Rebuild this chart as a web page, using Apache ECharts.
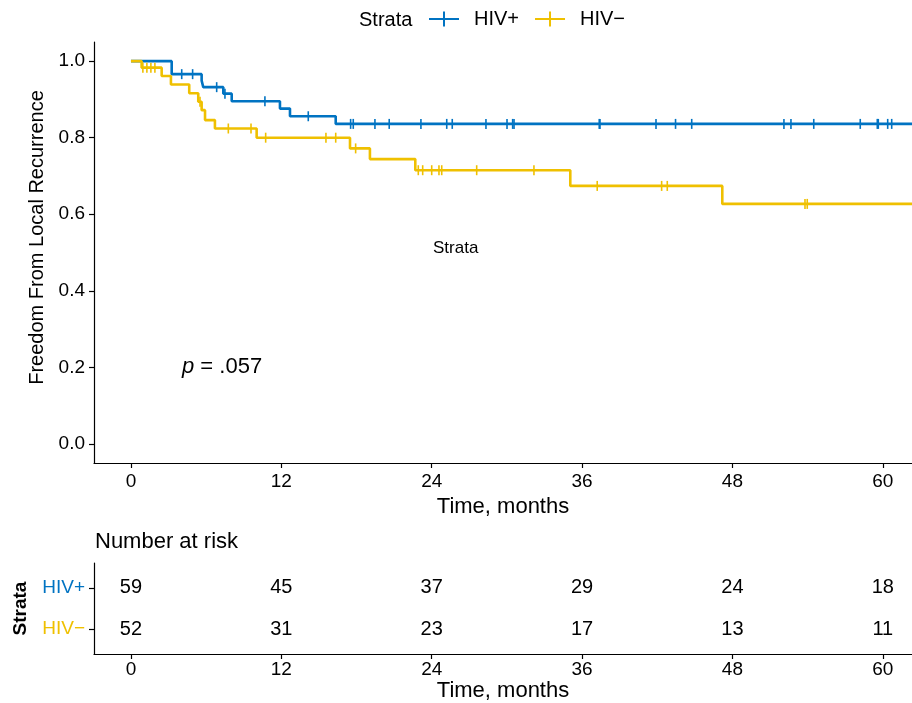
<!DOCTYPE html>
<html>
<head>
<meta charset="utf-8">
<script src="https://cdn.jsdelivr.net/npm/echarts@6/dist/echarts.min.js"></script>
<style>html,body{margin:0;padding:0;background:#fff;overflow:hidden}#c{width:912px;height:703px}</style>
</head>
<body>
<div id="c"></div>
<script>
// ---- Data ----
var strata = ['HIV+', 'HIV\u2212'];
var colors = ['#0073C2', '#EFC000'];
var endTime = 63;

// HIV+ step curve (event times, survival after event)
var hivPosTimes = [0, 3.25, 5.64, 5.77, 7.37, 8.04, 11.89, 12.69, 16.34];
var hivPosSurv  = [1, 0.966, 0.949, 0.932, 0.915, 0.895, 0.876, 0.856, 0.836];
var hivPosCensor = [4.05, 4.92, 6.84, 7.5, 10.69, 14.15, 17.53, 17.74, 19.47, 20.61, 23.14, 25.2, 25.64, 28.33, 30.01, 30.46, 30.57, 37.37, 37.43, 41.9, 43.46, 44.75, 52.11, 52.67, 54.49, 58.2, 59.56, 59.64, 60.39, 60.71];

// HIV− step curve
var hivNegTimes = [0, 0.85, 2.45, 3.19, 4.65, 5.37, 5.64, 5.91, 6.7, 10.03, 17.48, 19.07, 22.69, 35.06, 47.19];
var hivNegSurv  = [1, 0.983, 0.961, 0.939, 0.916, 0.894, 0.872, 0.846, 0.824, 0.800, 0.772, 0.744, 0.715, 0.674, 0.627];
var hivNegCensor = [0.95, 1.27, 1.59, 1.91, 5.51, 7.77, 9.58, 10.75, 15.56, 16.34, 17.93, 22.93, 23.28, 24.0, 24.58, 24.8, 27.59, 32.16, 37.21, 42.35, 42.8, 53.79, 53.97];

// Number at risk
var riskTimes = [0, 12, 24, 36, 48, 60];
var riskPos = [59, 45, 37, 29, 24, 18];
var riskNeg = [52, 31, 23, 17, 13, 11];

var xTicks = [0, 12, 24, 36, 48, 60];
var yTicks = [0, 0.2, 0.4, 0.6, 0.8, 1.0];
var pText = '.057';

// ---- Helpers ----
function stepData(times, surv) {
  var d = times.map(function (t, i) { return [t, surv[i]]; });
  d.push([endTime, surv[surv.length - 1]]);
  return d;
}
function survAt(times, surv, t) {
  var v = surv[0];
  for (var i = 0; i < times.length; i++) { if (times[i] <= t) v = surv[i]; }
  return v;
}
function censorData(cens, times, surv) {
  return cens.map(function (t) { return [t, survAt(times, surv, t)]; });
}

var FONT = 'Liberation Sans, Arial, Helvetica, sans-serif';
var xMin = -2.95, xMax = 62.33;
var crossIcon = 'path://M0,6.5 L30,6.5 L30,8.5 L0,8.5 Z M14,0 L16,0 L16,15 L14,15 Z';

function axLine() { return { show: true, onZero: false, lineStyle: { color: '#000', width: 1.2 } }; }
function tick(vals) { return { show: true, length: 5, customValues: vals, lineStyle: { color: '#000', width: 1.2 } }; }

var chart = echarts.init(document.getElementById('c'), null, { renderer: 'canvas' });
chart.setOption({
  animation: false,
  backgroundColor: '#fff',
  textStyle: { fontFamily: FONT },
  legend: {
    left: 429, top: 9, padding: 0,
    itemWidth: 30, itemHeight: 15, itemGap: 16,
    symbolKeepAspect: false,
    textStyle: { fontSize: 20, color: '#000', fontFamily: FONT, padding: [0, 0, 0, 10] },
    data: [
      { name: strata[0], icon: crossIcon, itemStyle: { color: colors[0], opacity: 1 } },
      { name: strata[1], icon: crossIcon, itemStyle: { color: colors[1], opacity: 1 } }
    ],
    selectedMode: false
  },
  graphic: [
    { type: 'text', left: 359, top: 10, style: { text: 'Strata', fontSize: 20, fill: '#000', fontFamily: FONT } },
    { type: 'text', left: 433, top: 240, style: { text: 'Strata', fontSize: 17, fill: '#000', fontFamily: FONT } },
    { type: 'text', left: 182, top: 356, style: {
        text: '{i|p} = ' + pText,
        rich: { i: { fontStyle: 'italic', fontSize: 22, fontFamily: FONT, fill: '#000' } },
        fontSize: 22, fill: '#000', fontFamily: FONT } },
    { type: 'text', left: 95, top: 531, style: { text: 'Number at risk', fontSize: 22, fill: '#000', fontFamily: FONT } }
  ],
  grid: [
    { left: 94, right: 0, top: 42, height: 421, containLabel: false },
    { left: 94, right: 0, top: 563, height: 96, containLabel: false }
  ],
  xAxis: [
    { gridIndex: 0, type: 'value', min: xMin, max: xMax,
      name: 'Time, months', nameLocation: 'middle', nameGap: 33,
      nameTextStyle: { fontSize: 22, color: '#000', fontFamily: FONT },
      axisLine: axLine(), axisTick: tick(xTicks),
      axisLabel: { customValues: xTicks, fontSize: 19, color: '#000', margin: 9, fontFamily: FONT },
      splitLine: { show: false } },
    { gridIndex: 1, type: 'value', min: xMin, max: xMax,
      name: 'Time, months', nameLocation: 'middle', nameGap: 26,
      nameTextStyle: { fontSize: 22, color: '#000', fontFamily: FONT },
      axisLine: axLine(), axisTick: tick(xTicks),
      axisLabel: { customValues: xTicks, fontSize: 19, color: '#000', margin: 6, fontFamily: FONT },
      splitLine: { show: false } }
  ],
  yAxis: [
    { gridIndex: 0, type: 'value', min: -0.05, max: 1.05,
      name: 'Freedom From Local Recurrence', nameLocation: 'middle', nameGap: 40,
      nameTextStyle: { fontSize: 20, color: '#000', fontFamily: FONT, padding: [0, 0, 0, 30] },
      axisLine: axLine(), axisTick: tick(yTicks),
      axisLabel: { customValues: yTicks, fontSize: 19, color: '#000', margin: 9, fontFamily: FONT,
        formatter: function (v) { return v.toFixed(1); } },
      splitLine: { show: false } },
    { gridIndex: 1, type: 'value', min: 0.4, max: 2.6,
      name: 'Strata', nameLocation: 'middle', nameGap: 64,
      nameTextStyle: { fontSize: 19, color: '#000', fontWeight: 'bold', fontFamily: FONT },
      axisLine: axLine(), axisTick: tick([1, 2]),
      axisLabel: { customValues: [1, 2], fontSize: 19, margin: 9, fontFamily: FONT,
        formatter: function (v) { return v === 2 ? '{a|' + strata[0] + '}' : '{b|' + strata[1] + '}'; },
        rich: { a: { color: colors[0], fontSize: 19, fontFamily: FONT }, b: { color: colors[1], fontSize: 19, fontFamily: FONT } } },
      splitLine: { show: false } }
  ],
  series: [
    { name: strata[0], type: 'line', step: 'end', xAxisIndex: 0, yAxisIndex: 0,
      data: stepData(hivPosTimes, hivPosSurv), showSymbol: false, symbol: 'none',
      lineStyle: { color: colors[0], width: 2.6 }, itemStyle: { color: colors[0] }, z: 2 },
    { name: strata[0], type: 'scatter', xAxisIndex: 0, yAxisIndex: 0,
      data: censorData(hivPosCensor, hivPosTimes, hivPosSurv),
      symbol: 'rect', symbolSize: [1.6, 10], itemStyle: { color: colors[0], opacity: 1 }, z: 3 },
    { name: strata[1], type: 'line', step: 'end', xAxisIndex: 0, yAxisIndex: 0,
      data: stepData(hivNegTimes, hivNegSurv), showSymbol: false, symbol: 'none',
      lineStyle: { color: colors[1], width: 2.6 }, itemStyle: { color: colors[1] }, z: 4 },
    { name: strata[1], type: 'scatter', xAxisIndex: 0, yAxisIndex: 0,
      data: censorData(hivNegCensor, hivNegTimes, hivNegSurv),
      symbol: 'rect', symbolSize: [1.6, 10], itemStyle: { color: colors[1], opacity: 1 }, z: 5 },
    { name: 'riskPos', type: 'scatter', xAxisIndex: 1, yAxisIndex: 1,
      data: riskTimes.map(function (t, i) { return [t, 2, riskPos[i]]; }),
      symbolSize: 0, itemStyle: { opacity: 1 },
      label: { show: true, position: 'inside', fontSize: 20, color: '#000', fontFamily: FONT,
        formatter: function (p) { return p.value[2]; } } },
    { name: 'riskNeg', type: 'scatter', xAxisIndex: 1, yAxisIndex: 1,
      data: riskTimes.map(function (t, i) { return [t, 1, riskNeg[i]]; }),
      symbolSize: 0, itemStyle: { opacity: 1 },
      label: { show: true, position: 'inside', fontSize: 20, color: '#000', fontFamily: FONT,
        formatter: function (p) { return p.value[2]; } } }
  ]
});
</script>
</body>
</html>
